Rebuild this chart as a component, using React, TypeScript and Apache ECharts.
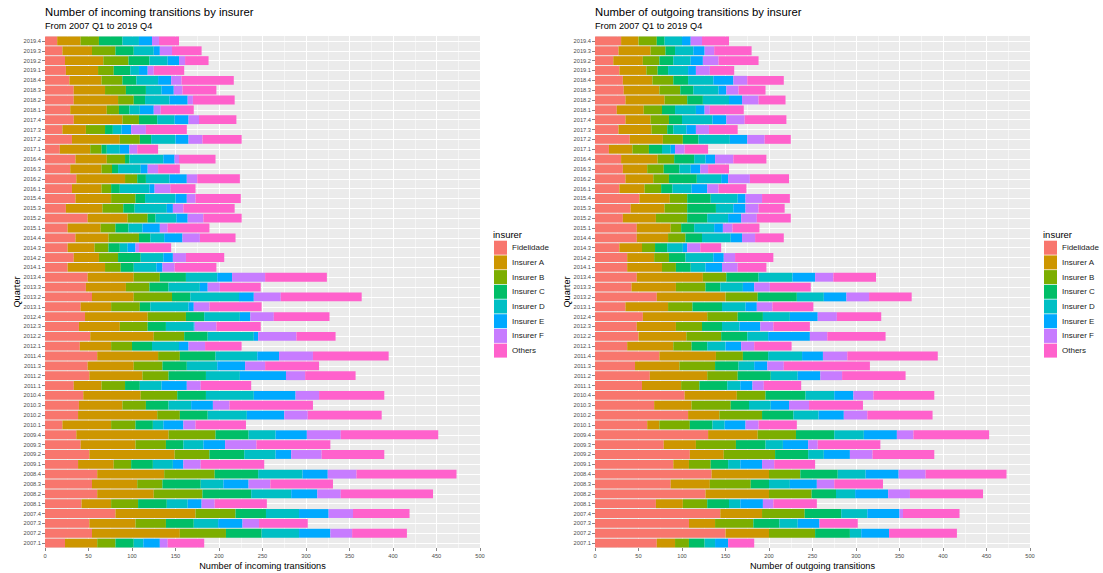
import React, { useEffect, useRef } from "react";
import * as echarts from "echarts";

// Quarters listed from top of the chart (2019.4) to bottom (2007.1)
const QUARTERS_TOP_DOWN = [
  "2019.4", "2019.3", "2019.2", "2019.1",
  "2018.4", "2018.3", "2018.2", "2018.1",
  "2017.4", "2017.3", "2017.2", "2017.1",
  "2016.4", "2016.3", "2016.2", "2016.1",
  "2015.4", "2015.3", "2015.2", "2015.1",
  "2014.4", "2014.3", "2014.2", "2014.1",
  "2013.4", "2013.3", "2013.2", "2013.1",
  "2012.4", "2012.3", "2012.2", "2012.1",
  "2011.4", "2011.3", "2011.2", "2011.1",
  "2010.4", "2010.3", "2010.2", "2010.1",
  "2009.4", "2009.3", "2009.2", "2009.1",
  "2008.4", "2008.3", "2008.2", "2008.1",
  "2007.4", "2007.3", "2007.2", "2007.1",
];

const INSURERS = ["Fidelidade", "Insurer A", "Insurer B", "Insurer C", "Insurer D", "Insurer E", "Insurer F", "Others"];
const COLORS = ["#F8766D", "#CD9600", "#7CAE00", "#00BE67", "#00BFC4", "#00A9FF", "#C77CFF", "#FF61CC"];
const X_TICKS_MAX = 500;
const X_TICK_STEP = 50;

// Incoming transitions (top-down order)
const inFidelidade = [14, 20, 23, 24, 28, 33, 33, 29, 33, 20, 31, 17, 35, 29, 36, 31, 35, 24, 49, 26, 35, 26, 33, 26, 49, 47, 54, 41, 46, 39, 52, 40, 60, 49, 51, 33, 44, 39, 38, 20, 36, 41, 51, 38, 60, 54, 60, 42, 81, 51, 54, 23];
const inA = [27, 34, 44, 37, 37, 36, 51, 42, 56, 27, 55, 35, 36, 36, 56, 34, 41, 42, 46, 38, 38, 31, 29, 43, 53, 46, 48, 35, 72, 47, 73, 36, 70, 53, 61, 32, 66, 50, 91, 56, 106, 63, 98, 41, 77, 52, 65, 34, 92, 53, 101, 37];
const inB = [21, 27, 29, 18, 24, 24, 18, 14, 19, 22, 23, 13, 21, 12, 14, 11, 28, 24, 23, 17, 35, 16, 22, 18, 30, 27, 44, 33, 44, 32, 35, 24, 25, 33, 30, 27, 42, 27, 26, 28, 54, 35, 40, 20, 58, 29, 56, 31, 46, 35, 53, 21];
const inC = [27, 21, 24, 19, 16, 23, 13, 12, 21, 9, 13, 6, 5, 7, 10, 10, 11, 13, 9, 15, 13, 13, 26, 15, 30, 22, 21, 12, 21, 21, 27, 23, 41, 28, 43, 17, 33, 26, 32, 20, 38, 20, 40, 25, 50, 44, 56, 33, 35, 32, 41, 21];
const inD = [19, 23, 21, 10, 25, 18, 28, 12, 20, 10, 28, 15, 39, 26, 27, 34, 35, 37, 24, 16, 16, 9, 26, 26, 36, 36, 56, 44, 41, 32, 53, 31, 48, 35, 39, 25, 55, 26, 45, 12, 31, 23, 36, 23, 51, 26, 46, 24, 38, 28, 43, 11];
const inE = [15, 7, 13, 10, 15, 14, 21, 16, 16, 11, 15, 11, 13, 8, 20, 6, 13, 7, 13, 20, 21, 9, 11, 7, 17, 9, 17, 6, 12, 1, 5, 11, 25, 32, 53, 29, 48, 25, 43, 23, 36, 25, 18, 12, 29, 29, 30, 16, 34, 28, 36, 19];
const inF = [8, 14, 7, 7, 12, 10, 6, 8, 12, 17, 16, 9, 5, 12, 12, 18, 10, 12, 18, 9, 20, 4, 15, 14, 38, 14, 31, 18, 27, 25, 44, 19, 39, 23, 22, 16, 27, 19, 27, 14, 39, 36, 35, 20, 33, 25, 27, 15, 28, 19, 25, 9];
const inOthers = [23, 34, 27, 35, 60, 39, 48, 38, 43, 47, 45, 24, 42, 25, 49, 29, 52, 59, 44, 48, 41, 37, 44, 48, 71, 47, 93, 60, 64, 51, 45, 42, 87, 62, 58, 58, 75, 96, 85, 58, 112, 85, 72, 73, 115, 72, 106, 60, 65, 56, 63, 42];

// Outgoing transitions (top-down order)
const outFidelidade = [30, 27, 21, 28, 32, 33, 35, 25, 35, 27, 40, 16, 30, 32, 35, 28, 51, 41, 32, 48, 48, 28, 37, 37, 48, 42, 71, 35, 55, 48, 50, 37, 74, 46, 63, 54, 103, 68, 107, 60, 130, 79, 109, 90, 134, 87, 127, 70, 144, 108, 150, 71];
const outA = [20, 37, 34, 31, 34, 41, 45, 31, 29, 38, 38, 27, 42, 28, 32, 29, 35, 39, 38, 39, 36, 26, 31, 40, 76, 51, 79, 49, 74, 45, 55, 53, 65, 51, 66, 45, 60, 43, 36, 14, 57, 37, 39, 18, 66, 45, 73, 31, 48, 30, 50, 21];
const outB = [21, 17, 19, 13, 24, 24, 26, 21, 21, 18, 23, 19, 19, 19, 18, 19, 20, 26, 36, 12, 20, 15, 17, 16, 27, 34, 37, 28, 35, 30, 40, 21, 31, 41, 35, 21, 33, 45, 49, 35, 44, 46, 59, 25, 36, 47, 49, 28, 49, 44, 53, 16];
const outC = [9, 11, 16, 12, 17, 15, 18, 15, 15, 7, 18, 15, 23, 18, 32, 13, 27, 33, 23, 15, 19, 14, 19, 17, 37, 17, 45, 34, 29, 23, 30, 18, 29, 27, 38, 32, 46, 21, 36, 26, 44, 34, 38, 20, 43, 21, 28, 25, 42, 30, 40, 18];
const outD = [20, 21, 20, 23, 29, 29, 30, 24, 35, 15, 36, 10, 13, 13, 28, 22, 31, 20, 24, 23, 33, 18, 32, 17, 39, 26, 31, 27, 31, 20, 24, 21, 39, 18, 31, 15, 33, 25, 29, 14, 34, 20, 18, 14, 32, 24, 22, 13, 30, 21, 13, 12];
const outE = [10, 13, 14, 9, 23, 9, 15, 10, 16, 11, 20, 5, 11, 11, 8, 18, 9, 14, 15, 10, 13, 5, 12, 19, 26, 13, 26, 13, 32, 24, 48, 18, 24, 15, 26, 14, 22, 21, 29, 24, 38, 29, 30, 25, 38, 31, 38, 26, 37, 25, 32, 15];
const outF = [13, 11, 18, 16, 16, 14, 19, 6, 21, 15, 20, 11, 21, 9, 25, 13, 19, 15, 18, 11, 15, 15, 13, 18, 21, 18, 26, 18, 22, 15, 20, 15, 28, 19, 25, 13, 23, 23, 27, 15, 19, 11, 26, 14, 31, 20, 25, 12, 4, 0, 0, 0];
const outOthers = [31, 43, 46, 28, 42, 31, 31, 39, 48, 33, 30, 27, 38, 24, 45, 32, 32, 30, 39, 31, 33, 24, 44, 33, 49, 47, 49, 47, 51, 42, 67, 43, 104, 99, 73, 43, 70, 62, 75, 44, 87, 72, 71, 47, 93, 56, 84, 50, 65, 44, 78, 30];

const INCOMING = [inFidelidade, inA, inB, inC, inD, inE, inF, inOthers];
const OUTGOING = [outFidelidade, outA, outB, outC, outD, outE, outF, outOthers];

const FONT = "Liberation Sans, Arial, Helvetica, sans-serif";

export default function App() {
  const ref = useRef<HTMLDivElement>(null);

  useEffect(() => {
    if (!ref.current) return;
    const chart = echarts.init(ref.current, undefined, { renderer: "svg" });
    const cats = QUARTERS_TOP_DOWN.slice().reverse();

    const panels = [
      { left: 45, title: "Number of incoming transitions by insurer", xName: "Number of incoming transitions", data: INCOMING, stack: "in", legendX: 494 },
      { left: 595, title: "Number of outgoing transitions by insurer", xName: "Number of outgoing transitions", data: OUTGOING, stack: "out", legendX: 1044 },
    ];
    const W = 435;
    const TOP = 36;
    const H = 512;

    const grids: any[] = [];
    const xAxes: any[] = [];
    const yAxes: any[] = [];
    const series: any[] = [];
    const legends: any[] = [];
    const graphics: any[] = [];

    panels.forEach((p, pi) => {
      grids.push({ left: p.left, top: TOP, width: W, height: H, show: true, backgroundColor: "#EBEBEB", borderWidth: 0 });
      xAxes.push({
        gridIndex: pi,
        type: "value",
        min: 0,
        max: X_TICKS_MAX,
        interval: X_TICK_STEP,
        axisLine: { show: false },
        axisTick: { show: true, length: 3, lineStyle: { color: "#333333", width: 0.6 } },
        axisLabel: { fontSize: 5.7, color: "#4D4D4D", margin: 5, fontFamily: FONT },
        splitLine: { show: true, lineStyle: { color: "#FFFFFF", width: 1 } },
        minorTick: { show: false, splitNumber: 2 },
        minorSplitLine: { show: true, lineStyle: { color: "#FFFFFF", width: 0.5 } },
      });
      yAxes.push({
        gridIndex: pi,
        type: "category",
        data: cats,
        axisLine: { show: false },
        axisTick: { show: true, length: 3, alignWithLabel: true, interval: 0, lineStyle: { color: "#333333", width: 0.6 } },
        axisLabel: { interval: 0, fontSize: 5.7, color: "#4D4D4D", margin: 4, fontFamily: FONT },
        splitLine: { show: true, interval: 0, alignWithLabel: true, lineStyle: { color: "#FFFFFF", width: 1 } },
      });
      p.data.forEach((arr, i) => {
        series.push({
          type: "bar",
          name: INSURERS[i],
          stack: p.stack,
          xAxisIndex: pi,
          yAxisIndex: pi,
          barCategoryGap: "10%",
          itemStyle: { color: COLORS[i] },
          data: arr.slice().reverse(),
        });
      });
      legends.push({
        orient: "vertical",
        left: p.legendX,
        top: 240.7,
        padding: 0,
        itemWidth: 13,
        itemHeight: 14,
        itemGap: 0.7,
        icon: "rect",
        selectedMode: false,
        data: INSURERS,
        textStyle: { fontSize: 8, color: "#1A1A1A", fontFamily: FONT },
      });
      graphics.push(
        { type: "text", x: p.left, y: 11.5, style: { text: p.title, fontSize: 11.3, fill: "#000", fontFamily: FONT, align: "left", verticalAlign: "middle" } },
        { type: "text", x: p.left, y: 26.1, style: { text: "From 2007 Q1 to 2019 Q4", fontSize: 9.2, fill: "#000", fontFamily: FONT, align: "left", verticalAlign: "middle" } },
        { type: "text", x: p.left + W / 2, y: 566, style: { text: p.xName, fontSize: 9.2, fill: "#000", fontFamily: FONT, align: "center", verticalAlign: "middle" } },
        { type: "text", x: p.left - 28, y: TOP + H / 2, rotation: Math.PI / 2, style: { text: "Quarter", fontSize: 9.2, fill: "#000", fontFamily: FONT, align: "center", verticalAlign: "middle" } },
        { type: "text", x: p.legendX - 1, y: 234, style: { text: "insurer", fontSize: 9.5, fill: "#000", fontFamily: FONT, align: "left", verticalAlign: "middle" } }
      );
    });

    chart.setOption({
      animation: false,
      backgroundColor: "#FFFFFF",
      textStyle: { fontFamily: FONT },
      grid: grids,
      xAxis: xAxes,
      yAxis: yAxes,
      legend: legends,
      series,
      graphic: graphics,
    });

    return () => chart.dispose();
  }, []);

  return <div ref={ref} style={{ position: "absolute", left: 0, top: 0, width: 1103, height: 573 }} />;
}
